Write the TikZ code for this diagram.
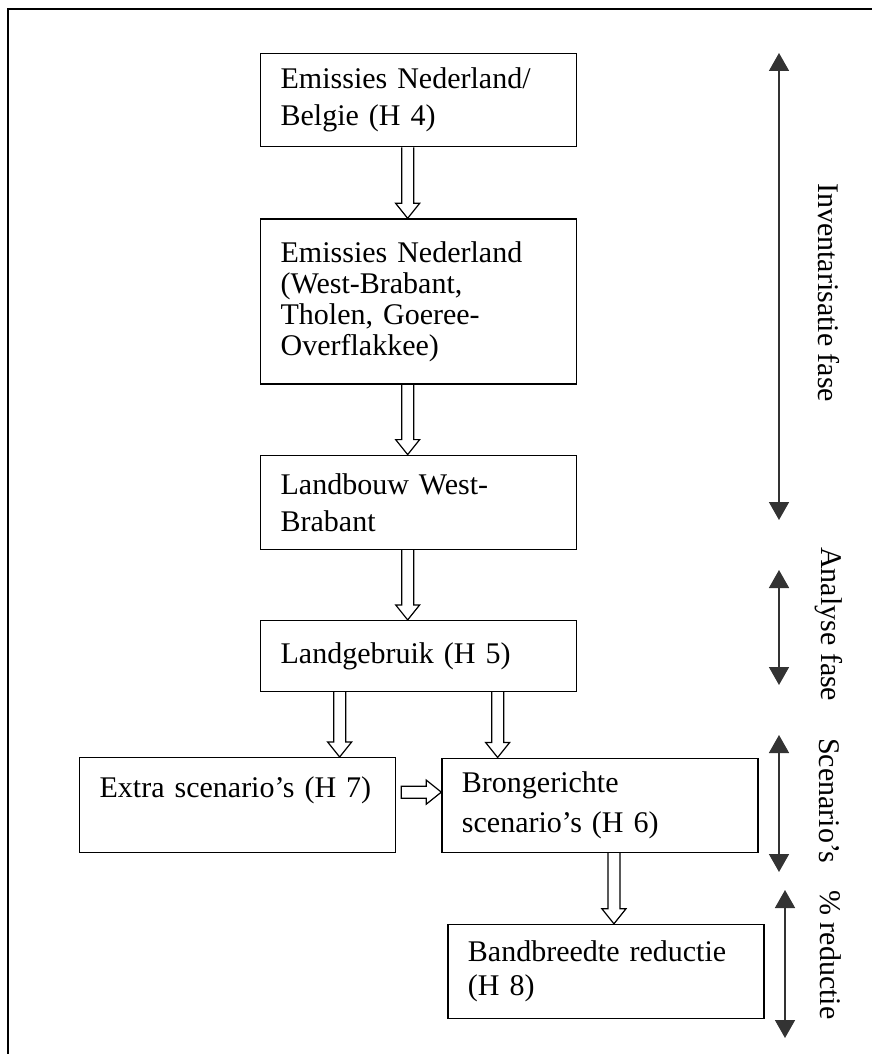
\documentclass[tikz,border=0pt]{standalone}
\usepackage{fontspec}
\setmainfont{Liberation Serif}
\usetikzlibrary{arrows.meta, calc, positioning}
\tikzset{
  flbox/.style={rectangle, draw, line width=1.3pt, minimum width=316pt, text width=276pt,
    inner xsep=20pt, inner ysep=2pt, align=left, font=\fontsize{30}{37}\selectfont},
  flblock/.style={draw, line width=1.2pt},
  flspan/.style={<->, >={Triangle[length=18pt, width=20pt]}, line width=1.6pt, draw=black!80},
  fllabel/.style={rotate=-90, anchor=west, inner sep=0pt, font=\fontsize{30}{36}\selectfont},
  flframe/.style={line width=2.6pt},
}
% hollow block arrows (from #1 to #2)
\newcommand{\flblockdown}[2]{%
  \draw[flblock] let \p1=(#1), \p2=(#2) in
    (\x1-6pt,\y1) -- (\x1-6pt,\y2+15pt) -- (\x1-12pt,\y2+15pt) -- (\x1,\y2)
    -- (\x1+12pt,\y2+15pt) -- (\x1+6pt,\y2+15pt) -- (\x1+6pt,\y1);}
\newcommand{\flblockright}[2]{%
  \draw[flblock] let \p1=(#1), \p2=(#2) in
    (\x1,\y1+6pt) -- (\x2-15pt,\y1+6pt) -- (\x2-15pt,\y1+12pt) -- (\x2,\y1)
    -- (\x2-15pt,\y1-12pt) -- (\x2-15pt,\y1-6pt) -- (\x1,\y1-6pt) -- cycle;}

\begin{document}
\begin{tikzpicture}[x=1pt, y=-1pt]
  \useasboundingbox (0,0) rectangle (872,1054);

  % Frame.
  \coordinate (frtr) at (872,9);
  \coordinate (frtl) at (8,9);
  \coordinate (frbl) at (8,1054);
  \draw[flframe] (frtr) -- (frtl) -- (frbl);

  % Main column.
  \node[flbox, minimum height=93pt, anchor=north west] (b1) at (260,53)
    {Emissies Nederland/\\Belgie (H 4)};
  \node[flbox, minimum height=165pt, below=71pt of b1, font=\fontsize{30}{31}\selectfont] (b2)
    {Emissies Nederland\\(West-Brabant,\\Tholen, Goeree-\\Overflakkee)};
  \node[flbox, minimum height=94pt, below=70pt of b2] (b3)
    {Landbouw West-\\Brabant};
  \node[flbox, minimum height=71pt, below=70pt of b3] (b4)
    {Landgebruik (H 5)};

  % Scenario's.
  \node[flbox, minimum height=95pt, anchor=north west] (b5) at (79,757)
    {Extra scenario’s (H 7)\\\mbox{}};
  \node[flbox, minimum height=94pt, right=45pt of b5, font=\fontsize{30}{40}\selectfont] (b6)
    {Brongerichte\\scenario’s (H 6)};
  \node[flbox, minimum height=94pt, below=71pt of b6, xshift=6pt, font=\fontsize{30}{34}\selectfont] (b7)
    {Bandbreedte reductie\\(H 8)};

  % Block arrows.
  \flblockdown{$(b1.south)+(-11,0)$}{b2.north}
  \flblockdown{$(b2.south)+(-11,0)$}{b3.north}
  \flblockdown{$(b3.south)+(-11,0)$}{b4.north}
  \flblockdown{$(b4.south)+(-79,0)$}{b5.north}
  \flblockdown{$(b4.south)+(79,0)$}{b6.north}
  \flblockright{$(b5.east)+(5,-13)$}{b6.west}
  \flblockdown{$(b6.south)+(14,0)$}{b7.north}

  % Phases.
  \coordinate (inva) at (779,53);
  \coordinate (invb) at (779,520);
  \coordinate (anaa) at (779,570);
  \coordinate (anab) at (779,685);
  \coordinate (scea) at (779,735);
  \coordinate (sceb) at (779,872);
  \coordinate (reda) at (785,890);
  \coordinate (redb) at (785,1038);
  \draw[flspan] (inva) -- (invb);
  \draw[flspan] (anaa) -- (anab);
  \draw[flspan] (scea) -- (sceb);
  \draw[flspan] (reda) -- (redb);

  \node[fllabel] (invlab) at (829,183) {Inventarisatie fase};
  \node[fllabel] (analab) at (829,547) {Analyse fase};
  \node[fllabel] (scelab) at (829,738) {Scenario’s};
  \node[fllabel] (redlab) at (831,890) {\% reductie};
\end{tikzpicture}
\end{document}
